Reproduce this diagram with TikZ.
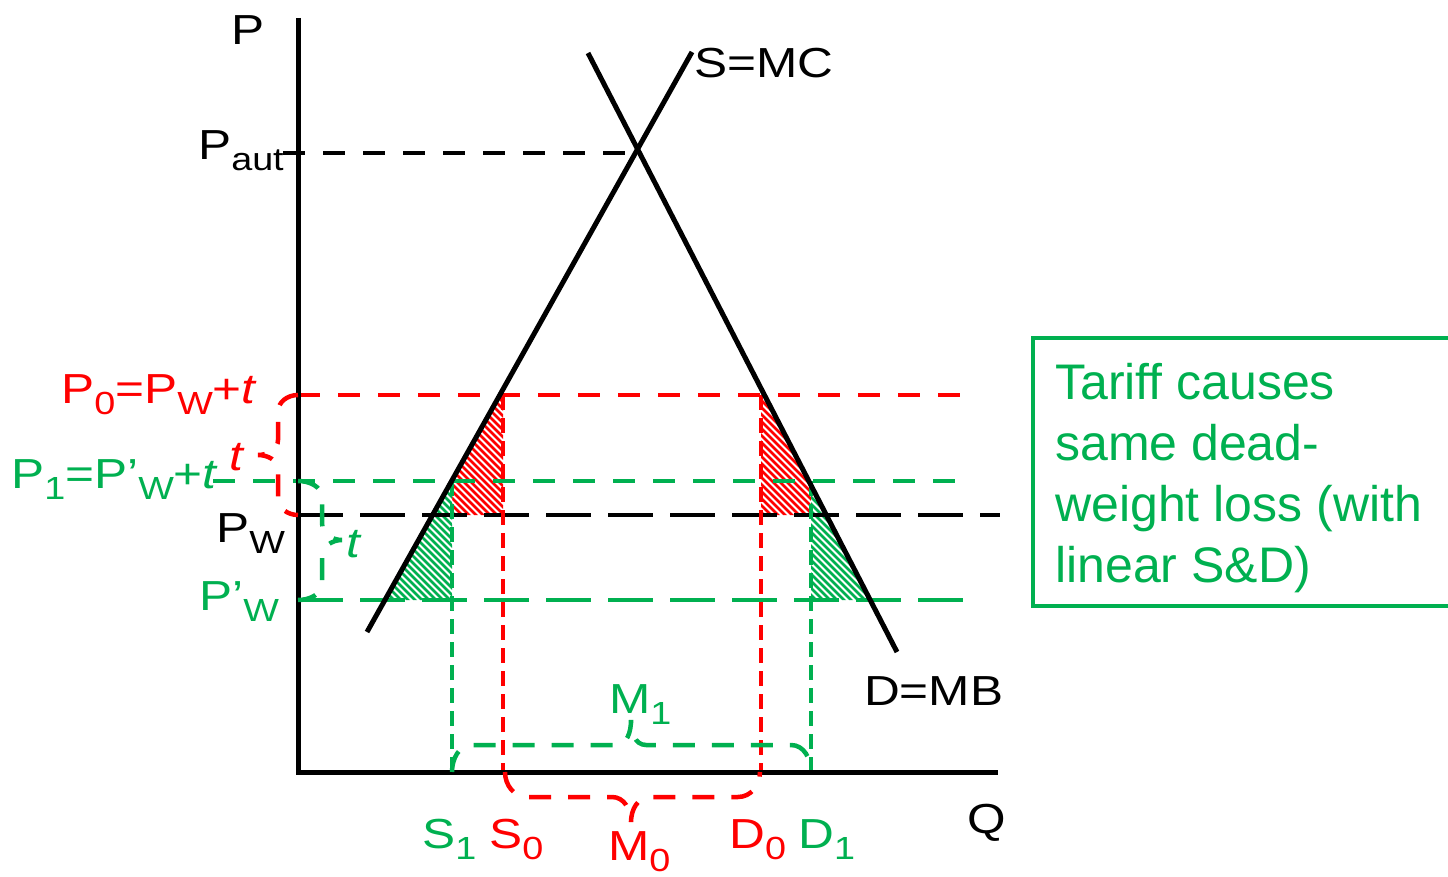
\documentclass[tikz,border=0pt]{standalone}
\usepackage{fontspec}
\setmainfont{Liberation Sans}
\definecolor{gr}{RGB}{0,176,80}
\definecolor{rd}{RGB}{255,0,0}
\newcommand{\sbs}[1]{\raisebox{-11pt}{\fontsize{32}{32}\selectfont #1}}
\newcommand{\wide}[1]{\scalebox{1.18}[1]{#1}}
\begin{document}
\begin{tikzpicture}[x=1pt,y=-1pt,
  lbl/.style={inner sep=0pt, anchor=base west, font=\fontsize{42}{48}\selectfont},
  axisline/.style={line width=5pt},
  curveline/.style={line width=5pt},
  shortdash/.style={line width=4.5pt, dash pattern=on 22pt off 18pt},
  longdash/.style={line width=4.5pt, dash pattern=on 45pt off 17pt},
  vdash/.style={line width=4.5pt, dash pattern=on 15pt off 8pt},
  bracestyle/.style={line width=4.5pt, dash pattern=on 22pt off 17pt},
  hatch/.style={line width=2.8pt}]
\clip (0,0) rectangle (1448,877);
% key points
\coordinate (O) at (298,772);
\coordinate (Ytop) at (298,18);
\coordinate (Xend) at (998,772);
\coordinate (Sa) at (367,632);
\coordinate (Sb) at (692,52);
\coordinate (Da) at (588,53);
\coordinate (Db) at (897,652);
% hatched areas
\begin{scope}
  \clip (500,395) -- (503,395) -- (503,515) -- (432.6,515) -- cycle;
  \foreach \i in {285,292,...,505} \draw[rd,hatch] (\i,380) -- ++(160,160);
\end{scope}
\begin{scope}
  \clip (764,395) -- (761,395) -- (761,515) -- (826.6,515) -- cycle;
  \foreach \i in {615,622,...,825} \draw[rd,hatch] (\i,380) -- ++(160,160);
\end{scope}
\fill[white] (451.6,481) -- (452,481) -- (452,600) -- (385,600) -- cycle;
\begin{scope}
  \clip (451.6,481) -- (452,481) -- (452,600) -- (385,600) -- cycle;
  \foreach \i in {250,257,...,455} \draw[gr,hatch] (\i,470) -- ++(150,150);
\end{scope}
\fill[white] (808.8,481) -- (811,481) -- (811,600) -- (870.5,600) -- cycle;
\begin{scope}
  \clip (808.8,481) -- (811,481) -- (811,600) -- (870.5,600) -- cycle;
  \foreach \i in {665,672,...,875} \draw[gr,hatch] (\i,470) -- ++(150,150);
\end{scope}
% price lines
\draw[shortdash] (283,153) -- (638,153);
\draw[rd,shortdash] (298,395) -- (962,395);
\draw[gr,shortdash] (213,481) -- (960,481);
\draw[longdash] (298,515) -- (1000,515);
\draw[gr,longdash] (298,600) -- (970,600);
% quantity lines
\draw[gr,vdash] (452,481) -- (452,772);
\draw[rd,vdash] (503,395) -- (503,772);
\draw[rd,vdash] (761,395) -- (761,772);
\draw[gr,vdash] (811,481) -- (811,772);
% axes and curves
\draw[axisline] (Ytop) -- (O) -- (Xend);
\draw[curveline] (Sa) -- (Sb);
\draw[curveline] (Da) -- (Db);
% braces
\draw[rd,bracestyle] (298,395) to[out=180,in=90] (278,412) -- (278,440) to[out=-90,in=0] (258,455)
  to[out=0,in=90] (278,470) -- (278,498) to[out=-90,in=180] (298,515);
\draw[gr,bracestyle] (298,481) to[out=0,in=90] (322,498) -- (322,523) to[out=-90,in=180] (342,540)
  to[out=180,in=90] (322,557) -- (322,583) to[out=-90,in=0] (298,600);
\draw[gr,bracestyle] (452,772) to[out=90,in=180] (472,745) -- (616,745) to[out=0,in=-90] (631,720)
  to[out=-90,in=180] (646,745) -- (791,745) to[out=0,in=90] (811,772);
\draw[rd,bracestyle] (505,772) to[out=-90,in=180] (527,797) -- (612,797) to[out=0,in=90] (631,822)
  to[out=90,in=180] (650,797) -- (738,797) to[out=0,in=-90] (760,772);
% labels
\node[lbl] (lP) at (231,45) {\wide{P}};
\node[lbl] (lPaut) at (198,160) {\wide{P\sbs{aut}}};
\node[lbl,text=rd] (lP0) at (61,403) {\wide{P\sbs{0}=P\sbs{W}+\textit{t}}};
\node[lbl,text=rd] (lt0) at (229,470) {\wide{\textit{t}}};
\node[lbl,text=gr] (lP1) at (11,488) {\wide{P\sbs{1}=P’\sbs{W}+\textit{t}}};
\node[lbl] (lPw) at (216,542) {\wide{P\sbs{W}}};
\node[lbl,text=gr] (lt1) at (346,557) {\wide{\textit{t}}};
\node[lbl,text=gr] (lPw1) at (199,610) {\wide{P’\sbs{W}}};
\node[lbl] (lS) at (694,78) {\wide{S=MC}};
\node[lbl] (lD) at (864,705) {\wide{D=MB}};
\node[lbl] (lQ) at (967,833) {\wide{Q}};
\node[lbl,text=gr] (lS1) at (422,848) {\wide{S\sbs{1}}};
\node[lbl,text=rd] (lS0) at (489,848) {\wide{S\sbs{0}}};
\node[lbl,text=rd] (lM0) at (608,860) {\wide{M\sbs{0}}};
\node[lbl,text=rd] (lD0) at (729,848) {\wide{D\sbs{0}}};
\node[lbl,text=gr] (lD1) at (798,848) {\wide{D\sbs{1}}};
\node[lbl,text=gr] (lM1) at (609,713) {\wide{M\sbs{1}}};
% text box
\draw[gr,line width=4.5pt] (1460,338) -- (1033,338) -- (1033,606) -- (1460,606);
\node[inner sep=0pt, anchor=base west, align=left, text=gr, font=\fontsize{50}{61}\selectfont]
  (tb) at (1055,582) {Tariff causes\\same dead-\\weight loss (with\\linear S\&D)};
\end{tikzpicture}
\end{document}
